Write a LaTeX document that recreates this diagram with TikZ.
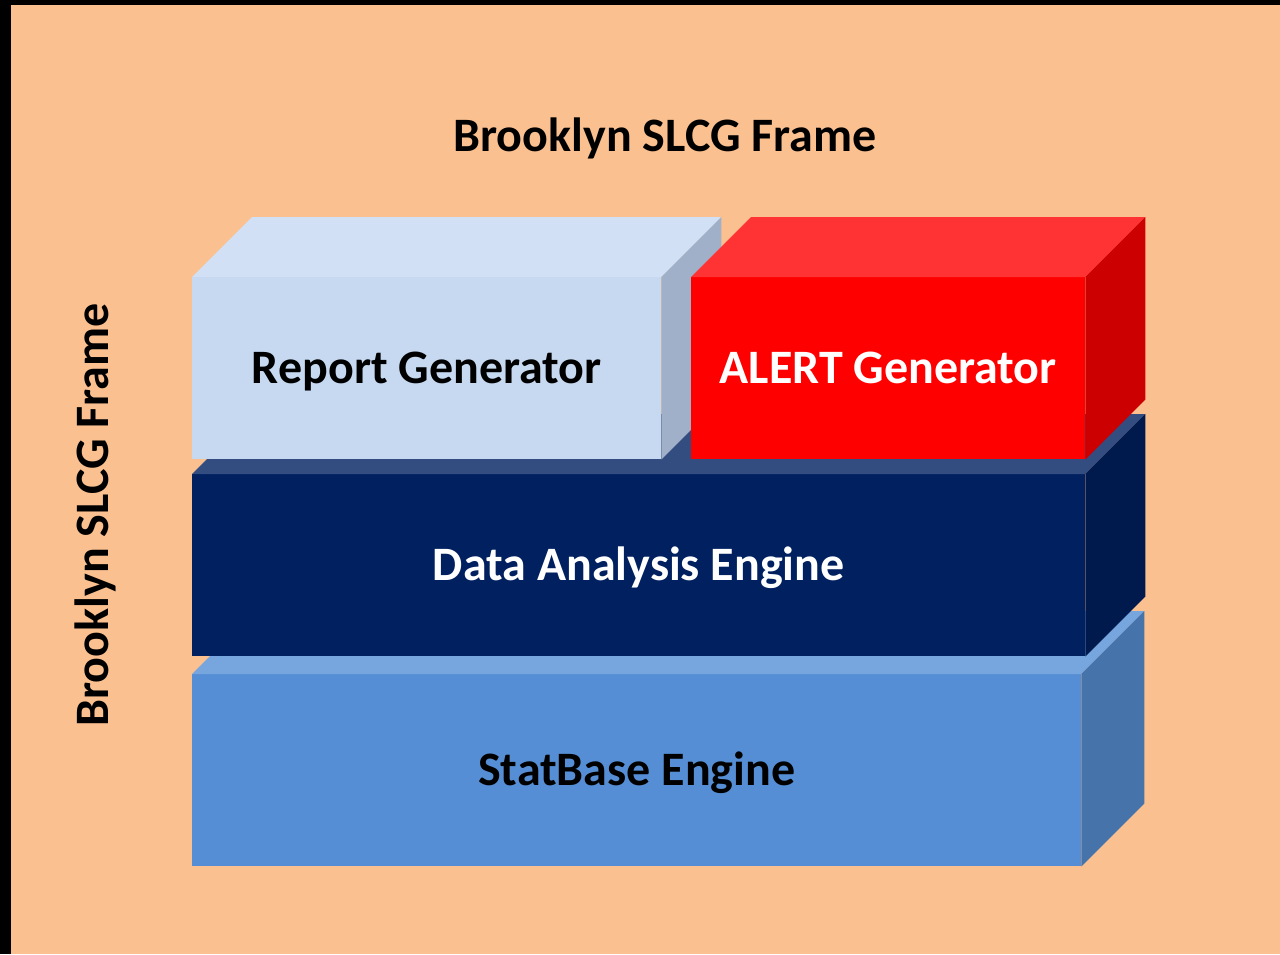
\documentclass[tikz,border=0pt]{standalone}
\usepackage{fontspec}
\setmainfont{Carlito}

\definecolor{peach}{HTML}{FAC090}
\definecolor{rptFront}{HTML}{C6D9F1}
\definecolor{rptTop}{HTML}{D2E0F5}
\definecolor{rptSide}{HTML}{A0B0C8}
\definecolor{alrFront}{HTML}{FF0000}
\definecolor{alrTop}{HTML}{FF3333}
\definecolor{alrSide}{HTML}{CC0000}
\definecolor{dataFront}{HTML}{002060}
\definecolor{dataTop}{HTML}{334D80}
\definecolor{dataSide}{HTML}{001A4D}
\definecolor{statFront}{HTML}{558ED5}
\definecolor{statTop}{HTML}{77A5DD}
\definecolor{statSide}{HTML}{4674AA}

% top and right faces of a block whose front face is node #1
\newcommand\blockfaces[4]{%
  \fill[#3] (#1.north west) -- ++(#2,-#2) -- ([shift={(#2,-#2)}]#1.north east) -- (#1.north east) -- cycle;
  \fill[#4] (#1.north east) -- ++(#2,-#2) -- ([shift={(#2,-#2)}]#1.south east) -- (#1.south east) -- cycle;}

\begin{document}
\begin{tikzpicture}[x=1pt,y=-1pt,
  label text/.style={font=\bfseries\fontsize{48}{54}\selectfont, text height=30pt, text depth=0pt, inner sep=0pt},
  front/.style={label text, anchor=north west}]
\useasboundingbox (0,0) rectangle (1280,954);
\fill[black] (0,0) rectangle (1280,954);
\fill[peach] (11,5) rectangle (1280,954);

% bottom layer
\node[front, fill=statFront, text=black, minimum width=889pt, minimum height=192pt] (stat) at (192,674) {StatBase Engine};
\blockfaces{stat}{63}{statTop}{statSide}

% middle layer
\node[front, fill=dataFront, text=white, minimum width=893pt, minimum height=182pt] (data) at (192,474) {Data Analysis Engine};
\blockfaces{data}{60}{dataTop}{dataSide}

% top layer
\node[front, fill=rptFront, text=black, minimum width=469pt, minimum height=182pt] (report) at (192,277) {Report Generator};
\blockfaces{report}{60}{rptTop}{rptSide}

\node[front, fill=alrFront, text=white, minimum width=394pt, minimum height=182pt] (alert) at (691,277) {ALERT Generator};
\blockfaces{alert}{60}{alrTop}{alrSide}

% frame titles
\node[label text] (title) at (665,136) {Brooklyn SLCG Frame};
\node[label text, rotate=90] (side) at (93,515) {Brooklyn SLCG Frame};
\end{tikzpicture}
\end{document}
